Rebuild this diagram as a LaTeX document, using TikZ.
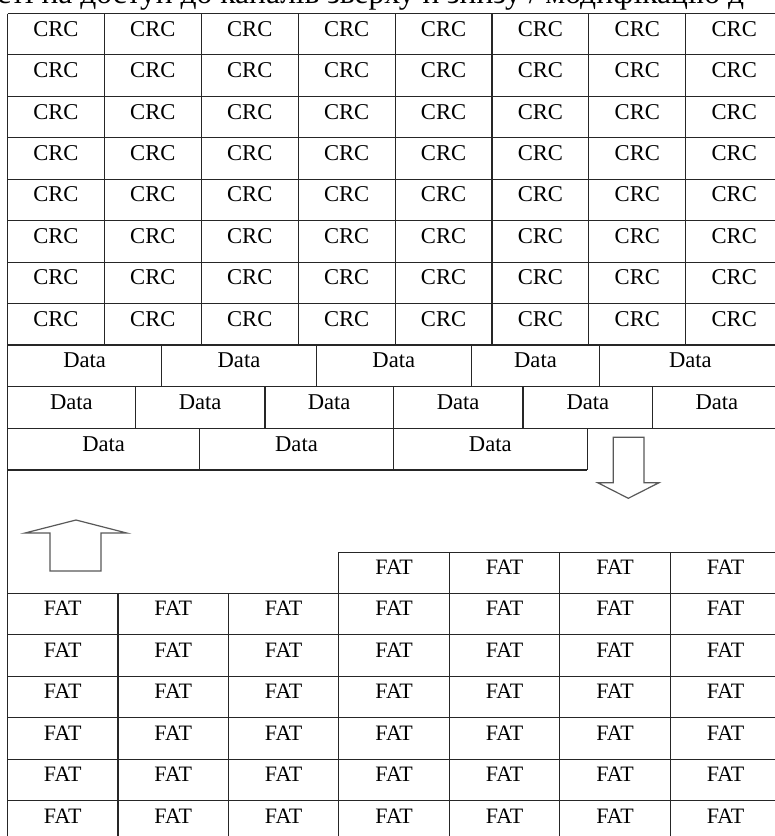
\documentclass[tikz,border=0pt]{standalone}
\usepackage{fontspec}
\setmainfont{Liberation Serif}
\begin{document}
\begin{tikzpicture}[x=1pt,y=-1pt,
  grid/.style={draw=black!85,line width=1.1pt},
  hollowarrow/.style={draw=black!65,line width=1.2pt,line join=miter,fill=white},
  celltext/.style={anchor=base,inner sep=0pt,font=\fontsize{22.6}{27}\selectfont},
  fattext/.style={anchor=base,inner sep=0pt,font=\fontsize{22}{26}\selectfont},
  headtext/.style={anchor=base west,inner sep=0pt,font=\fontsize{31.5}{36}\selectfont}]
\useasboundingbox (0,0) rectangle (775,836);
\clip (0,0) rectangle (775,836);
\fill[white] (0,0) rectangle (775,836);

% running text line above the table (mostly off the page)
\node[headtext] (head) at (-3,3) {сті на доступ до каналів зверху й знизу / модифікацію д};

% ---------- CRC block: 8 x 8 ----------
\def\crcL{7.5}\def\crcW{96.9}\def\crcT{13.5}\def\rowH{41.44}
\foreach \j in {0,...,8}
  \draw[grid] (\crcL,\crcT+\j*\rowH) -- (781,\crcT+\j*\rowH);
\foreach \i in {1,...,7}
  \draw[grid] (\crcL+\i*\crcW,\crcT) -- (\crcL+\i*\crcW,345);
\foreach \j in {0,...,7}
  \foreach \i in {0,...,7}
    \node[celltext] (crc-\j-\i) at (\crcL+\i*\crcW+0.5*\crcW,\crcT+\j*\rowH+22.7) {CRC};

% ---------- Data rows ----------
\draw[grid] (\crcL,386.7) -- (781,386.7);
\draw[grid] (\crcL,428.3) -- (781,428.3);
\draw[grid] (\crcL,470) -- (587.3,470);
% row 1
\foreach \x in {161.7,316.3,471.3,599.7} \draw[grid] (\x,345) -- (\x,386.7);
\foreach \a/\b [count=\k] in {7.5/161.7,161.7/316.3,316.3/471.3,471.3/599.7,599.7/781}
  \node[celltext] (dataA-\k) at ({(\a+\b)/2},345+22.7) {Data};
% row 2
\foreach \x in {135.3,265,393.3,523,652.7} \draw[grid] (\x,386.7) -- (\x,428.3);
\foreach \a/\b [count=\k] in {7.5/135.3,135.3/265,265/393.3,393.3/523,523/652.7,652.7/781}
  \node[celltext] (dataB-\k) at ({(\a+\b)/2},386.7+22.7) {Data};
% row 3
\foreach \x in {199.7,393.3,587.3} \draw[grid] (\x,428.3) -- (\x,470);
\foreach \a/\b [count=\k] in {7.5/199.7,199.7/393.3,393.3/587.3}
  \node[celltext] (dataC-\k) at ({(\a+\b)/2},428.3+22.7) {Data};

% left border running down the whole page
\draw[grid] (\crcL,\crcT) -- (\crcL,850);

% ---------- hollow arrows ----------
\draw[hollowarrow] (613.3,437.3) -- (644,437.3) -- (644,482.7) -- (659,482.7)
  -- (628.3,498.3) -- (597.7,482.7) -- (613.3,482.7) -- cycle;
\draw[hollowarrow] (50,571) -- (101,571) -- (101,533) -- (126.7,533)
  -- (76,520) -- (25,533) -- (50,533) -- cycle;

% ---------- FAT block ----------
\def\fatL{7.5}\def\fatW{110.47}\def\fatT{593.3}\def\fatH{41.5}
\draw[grid] (\fatL+3*\fatW,552.3) -- (781,552.3);
\foreach \i in {3,...,6}
  \draw[grid] (\fatL+\i*\fatW,552.3) -- (\fatL+\i*\fatW,\fatT);
\foreach \i in {3,...,6}
  \node[fattext] (fat-0-\i) at (\fatL+\i*\fatW+0.5*\fatW,552.3+22.3) {FAT};
\foreach \k in {0,...,5}
  \draw[grid] (\fatL,\fatT+\k*\fatH) -- (781,\fatT+\k*\fatH);
\foreach \i in {1,...,6}
  \draw[grid] (\fatL+\i*\fatW,\fatT) -- (\fatL+\i*\fatW,850);
\foreach \k in {1,...,6}
  \foreach \i in {0,...,6}
    \node[fattext] (fat-\k-\i) at (\fatL+\i*\fatW+0.5*\fatW,\fatT+\k*\fatH-\fatH+22.3) {FAT};
\end{tikzpicture}
\end{document}
